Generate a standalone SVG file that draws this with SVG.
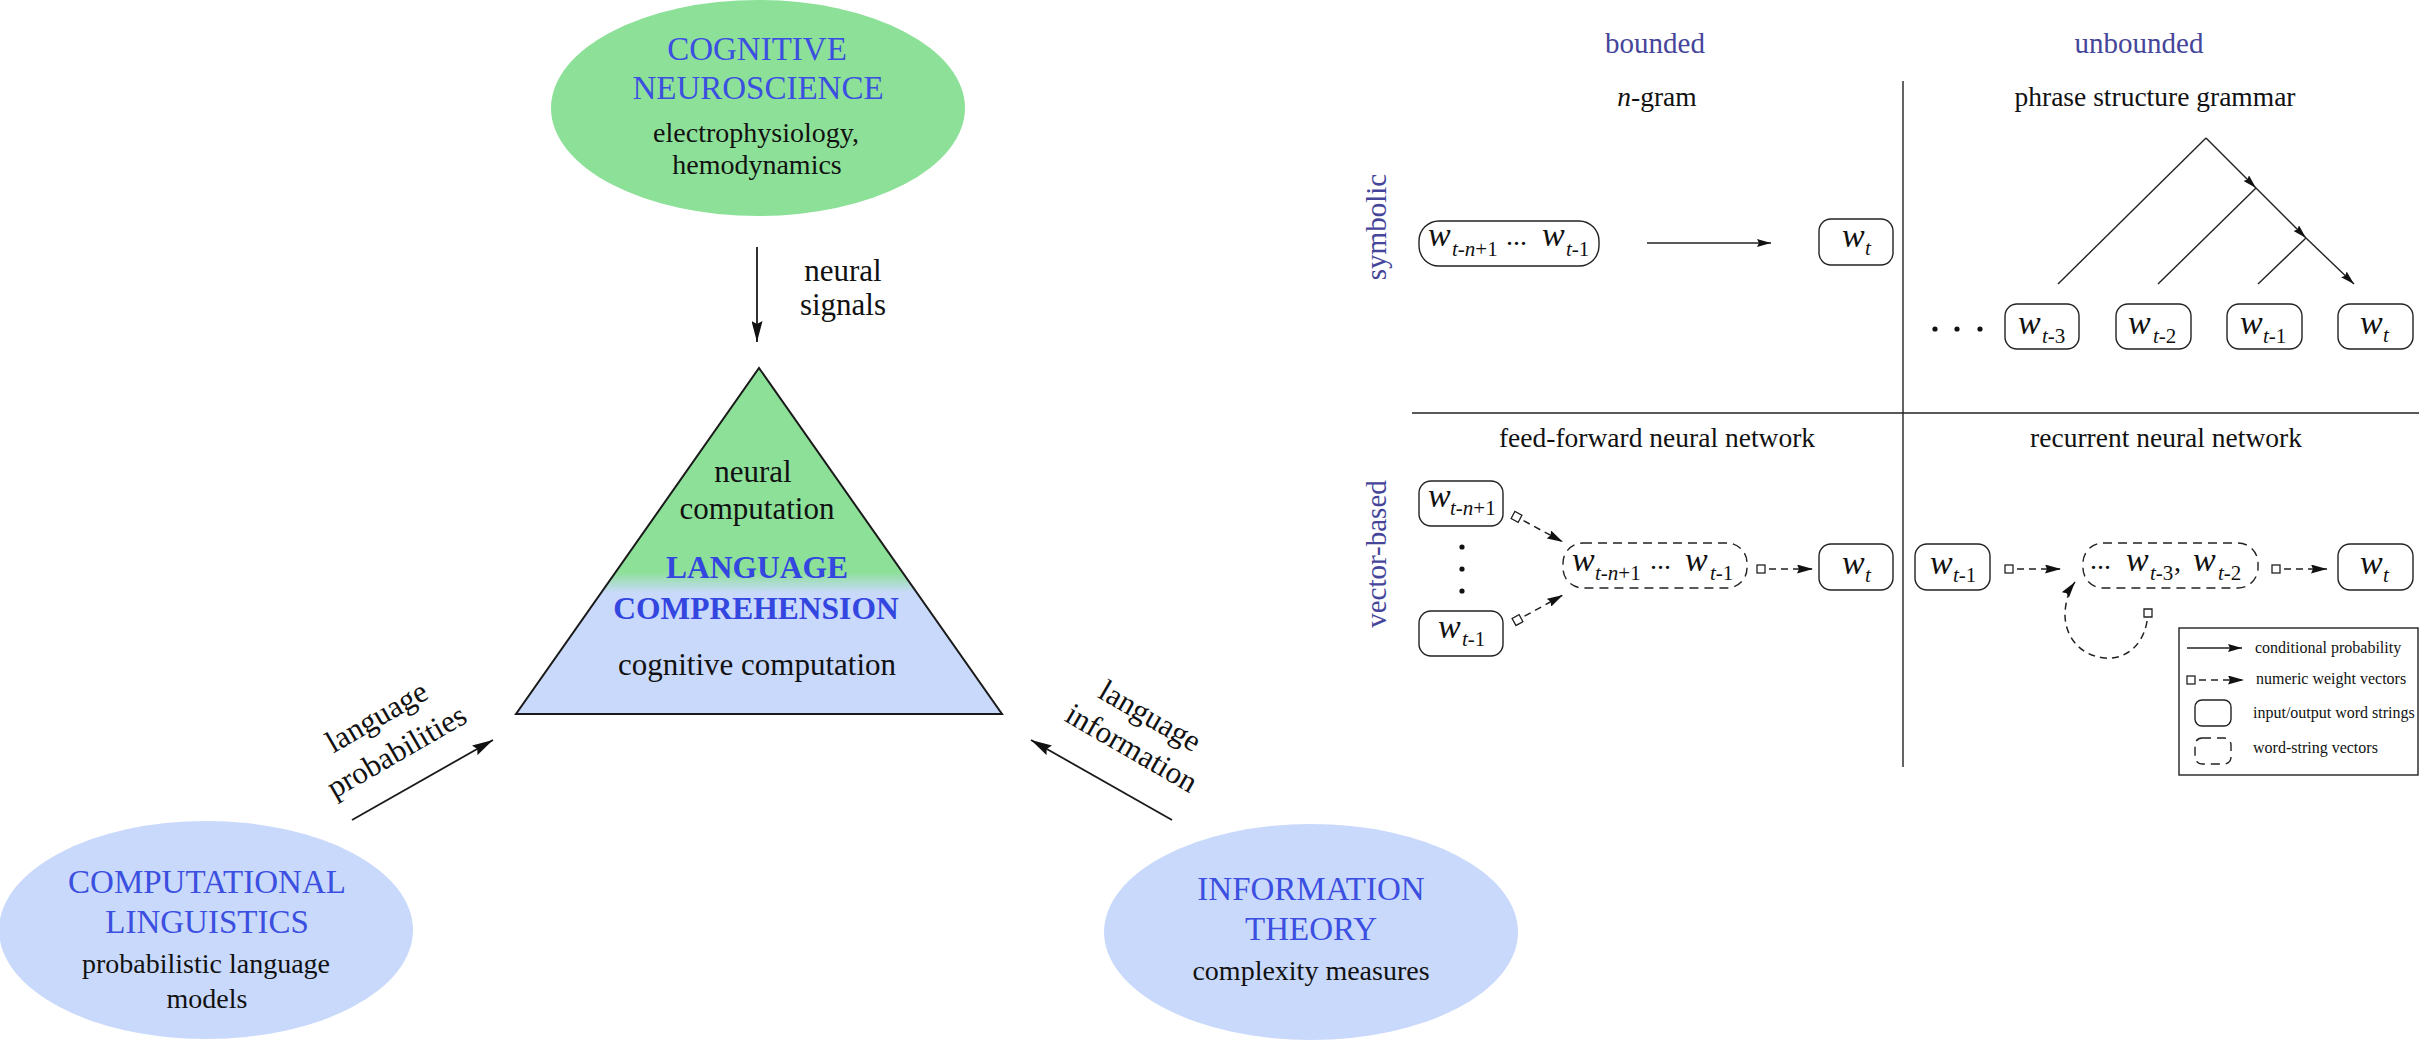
<svg xmlns="http://www.w3.org/2000/svg" width="2419" height="1042" viewBox="0 0 2419 1042">
<style>
text{font-family:'Liberation Serif','Times New Roman',serif;fill:#111}
.ttl{font-size:33px;fill:#3b4fe0;text-anchor:middle}
.sub{font-size:28px;text-anchor:middle}
.tri{font-size:31px;text-anchor:middle}
.big{font-size:31.5px;font-weight:bold;fill:#3346e0;text-anchor:middle}
.lab{font-size:31px;text-anchor:middle}
.hdr{font-size:29px;fill:#45459a;text-anchor:middle}
.pt{font-size:27.5px;text-anchor:middle}
.w{font-size:34px;font-style:italic}
.s{font-size:21px}
.i{font-style:italic}
.d{font-size:28px}
.leg{font-size:16px}
.box{fill:#fff;stroke:#222;stroke-width:1.4}
.dbox{fill:none;stroke:#222;stroke-width:1.4;stroke-dasharray:9 6}
.ln{fill:none;stroke:#222;stroke-width:1.4}
.bigln{fill:none;stroke:#1a1a1a;stroke-width:1.8}
.dash{fill:none;stroke:#222;stroke-width:1.5;stroke-dasharray:7 5}
</style>
<defs>
<marker id="ah" viewBox="0 0 14 8" refX="14" refY="4" markerWidth="14" markerHeight="8" markerUnits="userSpaceOnUse" orient="auto"><path d="M0,0 L14,4 L0,8 L2,4 z" fill="#111"/></marker>
<marker id="dh" viewBox="0 0 16 9" refX="16" refY="4.5" markerWidth="16" markerHeight="9" markerUnits="userSpaceOnUse" orient="auto"><path d="M0,0 L16,4.5 L0,9 L2,4.5 z" fill="#111"/></marker>
<marker id="bh" viewBox="0 0 21 11" refX="21" refY="5.5" markerWidth="21" markerHeight="11" markerUnits="userSpaceOnUse" orient="auto"><path d="M0,0 L21,5.5 L0,11 L3,5.5 z" fill="#111"/></marker>
<marker id="sq" viewBox="0 0 10 10" refX="1" refY="5" markerWidth="10" markerHeight="10" markerUnits="userSpaceOnUse" orient="auto"><rect x="1" y="1" width="8" height="8" fill="#fff" stroke="#222" stroke-width="1.3"/></marker>
<linearGradient id="tg" x1="0" y1="0" x2="0" y2="1">
<stop offset="0" stop-color="#8de098"/>
<stop offset="0.59" stop-color="#8de098"/>
<stop offset="0.65" stop-color="#c9d9fb"/>
<stop offset="1" stop-color="#c9d9fb"/>
</linearGradient>
</defs>

<!-- left diagram -->
<g id="cogneuro">
<ellipse cx="758" cy="108" rx="207" ry="108" fill="#8de098"/>
<text class="ttl" x="757" y="60">COGNITIVE</text>
<text class="ttl" x="758" y="99">NEUROSCIENCE</text>
<text class="sub" x="756" y="142">electrophysiology,</text>
<text class="sub" x="757" y="174">hemodynamics</text>
</g>
<g id="langcomp">
<polygon points="759,368 1002,714 516,714" fill="url(#tg)" stroke="#1a1a1a" stroke-width="2"/>
<text class="tri" x="753" y="482">neural</text>
<text class="tri" x="757" y="519">computation</text>
<text class="big" x="757" y="578">LANGUAGE</text>
<text class="big" x="756" y="619">COMPREHENSION</text>
<text class="tri" x="757" y="675">cognitive computation</text>
</g>
<g id="complin">
<ellipse cx="206" cy="930" rx="207" ry="109" fill="#c9d9fb"/>
<text class="ttl" x="207" y="893">COMPUTATIONAL</text>
<text class="ttl" x="207" y="933">LINGUISTICS</text>
<text class="sub" x="206" y="973">probabilistic language</text>
<text class="sub" x="207" y="1008">models</text>
</g>
<g id="infotheory">
<ellipse cx="1311" cy="932" rx="207" ry="108" fill="#c9d9fb"/>
<text class="ttl" x="1311" y="900">INFORMATION</text>
<text class="ttl" x="1311" y="940">THEORY</text>
<text class="sub" x="1311" y="980">complexity measures</text>
</g>
<g id="left-connectors">
<line class="bigln" x1="757" y1="247" x2="757" y2="342" marker-end="url(#bh)"/>
<line class="bigln" x1="352" y1="820" x2="493" y2="740" marker-end="url(#bh)"/>
<line class="bigln" x1="1172" y1="820" x2="1031" y2="740" marker-end="url(#bh)"/>
<text class="lab" x="843" y="281">neural</text>
<text class="lab" x="843" y="315">signals</text>
<g transform="translate(352,820) rotate(-30)">
<text class="lab" x="73" y="-67">language</text>
<text class="lab" x="73" y="-27">probabilities</text>
</g>
<g transform="translate(1172,820) rotate(30)">
<text class="lab" x="-71" y="-69">language</text>
<text class="lab" x="-71" y="-32">information</text>
</g>
</g>

<!-- right diagram: grid and headers -->
<g id="grid">
<line class="ln" x1="1903" y1="81" x2="1903" y2="767"/>
<line class="ln" x1="1412" y1="413" x2="2419" y2="413"/>
<text class="hdr" x="1655" y="53">bounded</text>
<text class="hdr" x="2139" y="53">unbounded</text>
<text class="hdr" transform="translate(1386,227) rotate(-90)">symbolic</text>
<text class="hdr" transform="translate(1386,554) rotate(-90)">vector-based</text>
<text class="pt" x="1657" y="106"><tspan class="i">n</tspan>-gram</text>
<text class="pt" x="2155" y="106">phrase structure grammar</text>
<text class="pt" x="1657" y="447">feed-forward neural network</text>
<text class="pt" x="2166" y="447">recurrent neural network</text>
</g>

<!-- n-gram nodes -->
<g id="ng-context">
<rect class="box" x="1419" y="221" width="180" height="45" rx="20"/>
<text><tspan class="w" x="1428" y="246">w</tspan><tspan class="s" x="1452" y="256"><tspan class="i">t</tspan>-<tspan class="i">n</tspan>+1</tspan><tspan class="d" x="1506" y="245">...</tspan><tspan class="w" x="1542" y="246">w</tspan><tspan class="s" x="1566" y="256"><tspan class="i">t</tspan>-1</tspan></text>
</g>
<g id="ng-target">
<rect class="box" x="1819" y="219" width="74" height="46" rx="12"/>
<text><tspan class="w" x="1842" y="247">w</tspan><tspan class="s i" x="1865" y="255">t</tspan></text>
</g>

<!-- phrase structure nodes -->
<g id="ps-dots" fill="#111">
<circle cx="1935" cy="329" r="2.6"/><circle cx="1957" cy="329" r="2.6"/><circle cx="1980" cy="329" r="2.6"/>
</g>
<g id="ps-w3">
<rect class="box" x="2005" y="304" width="74" height="45" rx="12"/>
<text><tspan class="w" x="2018" y="334">w</tspan><tspan class="s" x="2042" y="343"><tspan class="i">t</tspan>-3</tspan></text>
</g>
<g id="ps-w2">
<rect class="box" x="2116" y="304" width="75" height="45" rx="12"/>
<text><tspan class="w" x="2128" y="334">w</tspan><tspan class="s" x="2153" y="343"><tspan class="i">t</tspan>-2</tspan></text>
</g>
<g id="ps-w1">
<rect class="box" x="2227" y="304" width="75" height="45" rx="12"/>
<text><tspan class="w" x="2240" y="334">w</tspan><tspan class="s" x="2263" y="343"><tspan class="i">t</tspan>-1</tspan></text>
</g>
<g id="ps-wt">
<rect class="box" x="2338" y="304" width="75" height="45" rx="12"/>
<text><tspan class="w" x="2360" y="334">w</tspan><tspan class="s i" x="2383" y="342">t</tspan></text>
</g>

<!-- feed-forward nodes -->
<g id="ff-first">
<rect class="box" x="1419" y="481" width="84" height="45" rx="12"/>
<text><tspan class="w" x="1428" y="507">w</tspan><tspan class="s" x="1450" y="515"><tspan class="i">t</tspan>-<tspan class="i">n</tspan>+1</tspan></text>
</g>
<g id="ff-dots" fill="#111">
<circle cx="1462" cy="547" r="2.6"/><circle cx="1462" cy="569" r="2.6"/><circle cx="1462" cy="591" r="2.6"/>
</g>
<g id="ff-last">
<rect class="box" x="1419" y="611" width="84" height="45" rx="12"/>
<text><tspan class="w" x="1438" y="638">w</tspan><tspan class="s" x="1462" y="646"><tspan class="i">t</tspan>-1</tspan></text>
</g>
<g id="ff-vector">
<rect class="dbox" x="1563" y="543" width="184" height="45" rx="20"/>
<text><tspan class="w" x="1572" y="571">w</tspan><tspan class="s" x="1595" y="580"><tspan class="i">t</tspan>-<tspan class="i">n</tspan>+1</tspan><tspan class="d" x="1650" y="569">...</tspan><tspan class="w" x="1685" y="571">w</tspan><tspan class="s" x="1710" y="580"><tspan class="i">t</tspan>-1</tspan></text>
</g>
<g id="ff-target">
<rect class="box" x="1819" y="544" width="74" height="46" rx="12"/>
<text><tspan class="w" x="1842" y="574">w</tspan><tspan class="s i" x="1865" y="582">t</tspan></text>
</g>

<!-- recurrent nodes -->
<g id="rnn-input">
<rect class="box" x="1915" y="544" width="75" height="46" rx="12"/>
<text><tspan class="w" x="1930" y="574">w</tspan><tspan class="s" x="1953" y="582"><tspan class="i">t</tspan>-1</tspan></text>
</g>
<g id="rnn-vector">
<rect class="dbox" x="2083" y="543" width="175" height="45" rx="20"/>
<text><tspan class="d" x="2090" y="569">...</tspan><tspan class="w" x="2126" y="571">w</tspan><tspan class="s" x="2150" y="580"><tspan class="i">t</tspan>-3</tspan><tspan class="d" x="2174" y="571">,</tspan><tspan class="w" x="2193" y="571">w</tspan><tspan class="s" x="2218" y="580"><tspan class="i">t</tspan>-2</tspan></text>
</g>
<g id="rnn-target">
<rect class="box" x="2338" y="544" width="75" height="46" rx="12"/>
<text><tspan class="w" x="2360" y="574">w</tspan><tspan class="s i" x="2383" y="582">t</tspan></text>
</g>

<!-- right connectors -->
<g id="connectors">
<line class="ln" x1="1647" y1="243" x2="1771" y2="243" marker-end="url(#ah)"/>
<line class="ln" x1="2206" y1="138" x2="2058" y2="284"/>
<line class="ln" x1="2206" y1="138" x2="2256" y2="188" marker-end="url(#ah)"/>
<line class="ln" x1="2256" y1="188" x2="2306" y2="238" marker-end="url(#ah)"/>
<line class="ln" x1="2306" y1="238" x2="2354" y2="284" marker-end="url(#ah)"/>
<line class="ln" x1="2256" y1="188" x2="2158" y2="284"/>
<line class="ln" x1="2306" y1="238" x2="2258" y2="284"/>
<line class="dash" x1="1513" y1="515" x2="1563" y2="542" marker-start="url(#sq)" marker-end="url(#dh)"/>
<line class="dash" x1="1514" y1="622" x2="1563" y2="595" marker-start="url(#sq)" marker-end="url(#dh)"/>
<line class="dash" x1="1757" y1="569" x2="1813" y2="569" marker-start="url(#sq)" marker-end="url(#dh)"/>
<line class="dash" x1="2005" y1="569" x2="2061" y2="569" marker-start="url(#sq)" marker-end="url(#dh)"/>
<line class="dash" x1="2272" y1="569" x2="2327" y2="569" marker-start="url(#sq)" marker-end="url(#dh)"/>
<path class="dash" d="M2148,609 C2148,645 2125,660 2105,658 C2080,656 2064,636 2065,612 C2066,600 2069,590 2075,582" marker-start="url(#sq)" marker-end="url(#dh)"/>
</g>

<!-- legend -->
<g id="legend">
<rect x="2179" y="628" width="239" height="147" fill="#fff" stroke="#222" stroke-width="1.4"/>
<line class="ln" x1="2187" y1="648" x2="2242" y2="648" marker-end="url(#ah)"/>
<text class="leg" x="2255" y="653">conditional probability</text>
<line class="dash" x1="2187" y1="680" x2="2244" y2="680" stroke-dasharray="6 5" marker-start="url(#sq)" marker-end="url(#dh)"/>
<text class="leg" x="2256" y="684">numeric weight vectors</text>
<rect class="box" x="2195" y="700" width="36" height="26" rx="7"/>
<text class="leg" x="2253" y="718">input/output word strings</text>
<rect class="dbox" x="2195" y="738" width="36" height="26" rx="7" stroke-dasharray="7 7"/>
<text class="leg" x="2253" y="753">word-string vectors</text>
</g>
</svg>
